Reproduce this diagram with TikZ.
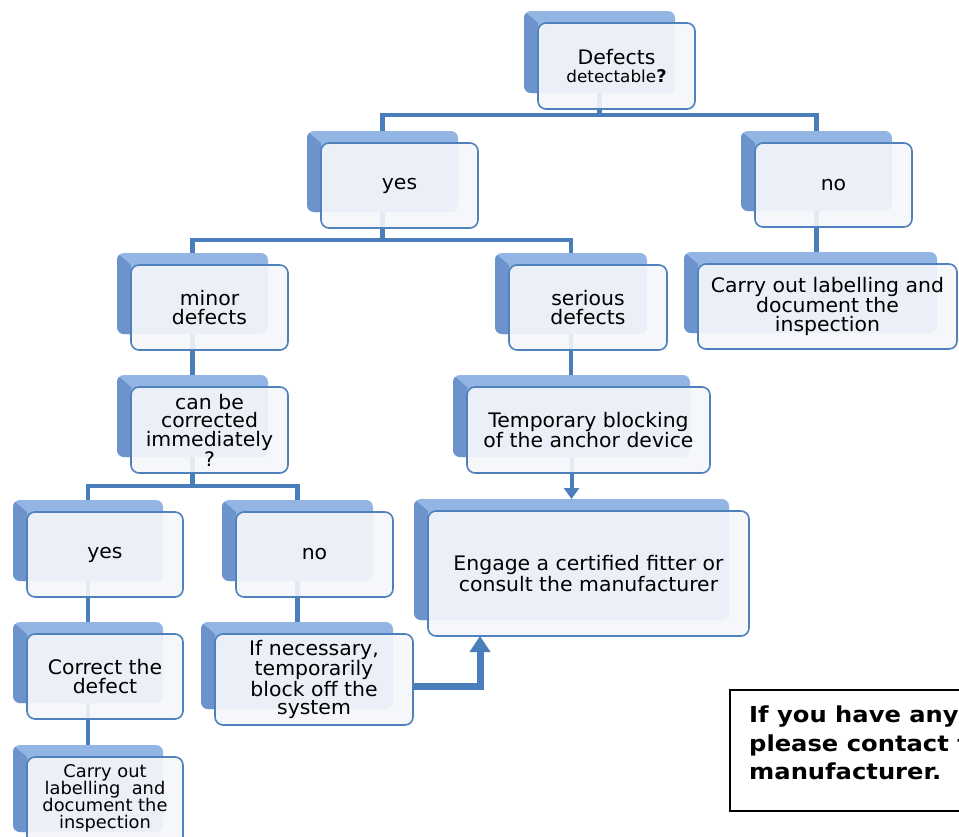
\documentclass[tikz,border=0pt]{standalone}
\usepackage{fontspec}
\setmainfont{DejaVu Sans}[FakeStretch=1.02]
\newfontfamily\notefont{DejaVu Sans}[FakeStretch=1.1]
\usetikzlibrary{arrows.meta}
\definecolor{lineblue}{HTML}{4A7EBB}
\definecolor{backlight}{HTML}{92B5E3}
\definecolor{backdark}{HTML}{6C93CB}
\definecolor{frontborder}{HTML}{4F81BD}
\definecolor{frontfill}{HTML}{F5F6FA}
\tikzset{
  conn/.style={draw=lineblue, line width=4.5pt},
  ghost/.style={inner sep=0pt, outer sep=0pt, anchor=north west},
  frontbox/.style={draw=frontborder, line width=1.6pt, rounded corners=8pt, fill=frontfill,
    fill opacity=0.9, text opacity=1, inner sep=2pt, outer sep=0pt, anchor=north west, align=center,
    font=\fontsize{20}{18.5}\selectfont},
}
% invisible back node (used for connectors), from front coordinates
\newcommand\backnode[5]{%
  \node[ghost, minimum width={(#4-20)-(#2-14)}, minimum height={(#5-16)-(#3-12)}] (#1) at ({#2-14},{#3-12}) {};}
% visible back shape
\newcommand\drawback[4]{%
  \fill[backlight, rounded corners=7pt] ({#1-14},{#2-12}) rectangle ({#3-20},{#4-16});
  \begin{scope}
    \clip[rounded corners=7pt] ({#1-14},{#2-12}) rectangle ({#3-20},{#4-16});
    \fill[backdark] ({#1-14},{#2-12}) -- (#1,#2) -- (#1,{#4-16}) -- ({#1-14},{#4-16}) -- cycle;
  \end{scope}}
\newcommand\frontnode[6]{%
  \node[frontbox, minimum width={#4-#2}, minimum height={#5-#3}] (#1) at (#2,#3) {#6};}

\begin{document}
\begin{tikzpicture}[x=1pt,y=-1pt]
\useasboundingbox (0,0) rectangle (959,836);
\clip (0,0) rectangle (959,836);

% invisible back nodes
\backnode{Ab}{538}{23}{695}{109}
\backnode{Bb}{321}{143}{478}{228}
\backnode{Cb}{755}{143}{912}{227}
\backnode{Db}{698}{264}{957}{349}
\backnode{Eb}{131}{265}{288}{350}
\backnode{Fb}{131}{387}{288}{473}
\backnode{Gb}{509}{265}{667}{350}
\backnode{Hb}{467}{387}{710}{473}
\backnode{Ib}{428}{511}{749}{636}
\backnode{Jb}{27}{512}{183}{597}
\backnode{Kb}{236}{512}{393}{597}
\backnode{Lb}{27}{634}{183}{719}
\backnode{Mb}{215}{634}{413}{725}
\backnode{Nb}{27}{757}{183}{848}

% connectors
\coordinate (h1) at (0,115);
\coordinate (h2) at (0,240);
\coordinate (h3) at (0,486);
\draw[conn] (Ab.south) -- (Ab.south |- h1);
\draw[conn] (Bb.north) -- (Bb.north |- h1) -- (Cb.north |- h1) -- (Cb.north);
\draw[conn] (Bb.south) -- (Bb.south |- h2);
\draw[conn] (Eb.north) -- (Eb.north |- h2) -- (Gb.north |- h2) -- (Gb.north);
\draw[conn] (Cb.south) -- (Cb.south |- Db.north);
\draw[conn] (Eb.south) -- (Eb.south |- Fb.north);
\draw[conn] (Fb.south) -- (Fb.south |- h3);
\draw[conn] (Jb.north) -- (Jb.north |- h3) -- (Kb.north |- h3) -- (Kb.north);
\draw[conn] (Gb.south) -- (Gb.south |- Hb.north);
\draw[conn, line width=4pt, -{Triangle[width=15pt,length=11pt]}] (Hb.south) -- (Hb.south |- Ib.north);
\draw[conn] (Jb.south) -- (Jb.south |- Lb.north);
\draw[conn] (Kb.south) -- (Kb.south |- Mb.north);
\draw[conn] (Lb.south) -- (Lb.south |- Nb.north);

% back shapes
\drawback{538}{23}{695}{109}
\drawback{321}{143}{478}{228}
\drawback{755}{143}{912}{227}
\drawback{698}{264}{957}{349}
\drawback{131}{265}{288}{350}
\drawback{131}{387}{288}{473}
\drawback{509}{265}{667}{350}
\drawback{467}{387}{710}{473}
\drawback{428}{511}{749}{636}
\drawback{27}{512}{183}{597}
\drawback{236}{512}{393}{597}
\drawback{27}{634}{183}{719}
\drawback{215}{634}{413}{725}
\drawback{27}{757}{183}{848}

% front boxes
\frontnode{A}{538}{23}{695}{109}{Defects\\{\fontsize{16.5}{17}\selectfont detectable}{\fontsize{17.5}{17}\selectfont\bfseries ?}}
\frontnode{B}{321}{143}{478}{228}{yes}
\frontnode{C}{755}{143}{912}{227}{no}
\frontnode{D}{698}{264}{957}{349}{Carry out labelling and\\document the\\inspection}
\frontnode{E}{131}{265}{288}{350}{minor\\defects}
\frontnode{F}{131}{387}{288}{473}{can be\\corrected\\immediately\\?}
\frontnode{G}{509}{265}{667}{350}{serious\\defects}
\frontnode{H}{467}{387}{710}{473}{Temporary blocking\\of the anchor device}
\frontnode{I}{428}{511}{749}{636}{Engage a certified fitter or\\consult the manufacturer}
\frontnode{J}{27}{512}{183}{597}{yes}
\frontnode{K}{236}{512}{393}{597}{no}
\frontnode{L}{27}{634}{183}{719}{Correct the\\defect}
\frontnode{M}{215}{634}{413}{725}{If necessary,\\temporarily\\block off the\\system}
\node[frontbox, minimum width=156, minimum height=91, font=\fontsize{17.5}{17}\selectfont, text depth=0pt] (N) at (27,757) {Carry out\\labelling~ and\\document the\\inspection\\[-4pt]\mbox{}};

% thick arrow from M to I
\coordinate (mi) at (480,686);
\draw[conn, line width=7pt, -{Triangle[width=20pt,length=16pt]}] (M.east |- mi) -- (mi) -- (mi |- I.south);

% note box
\node[draw=black, line width=1.8pt, anchor=north west, minimum width=300, minimum height=121, inner sep=0pt] (note) at (729,689) {};
\node[anchor=north west, align=left, inner sep=0pt, font=\notefont\bfseries\fontsize{22}{28.5}\selectfont] (notetext) at (749,706) {If you have any\\please contact t\\manufacturer.};
\end{tikzpicture}
\end{document}
